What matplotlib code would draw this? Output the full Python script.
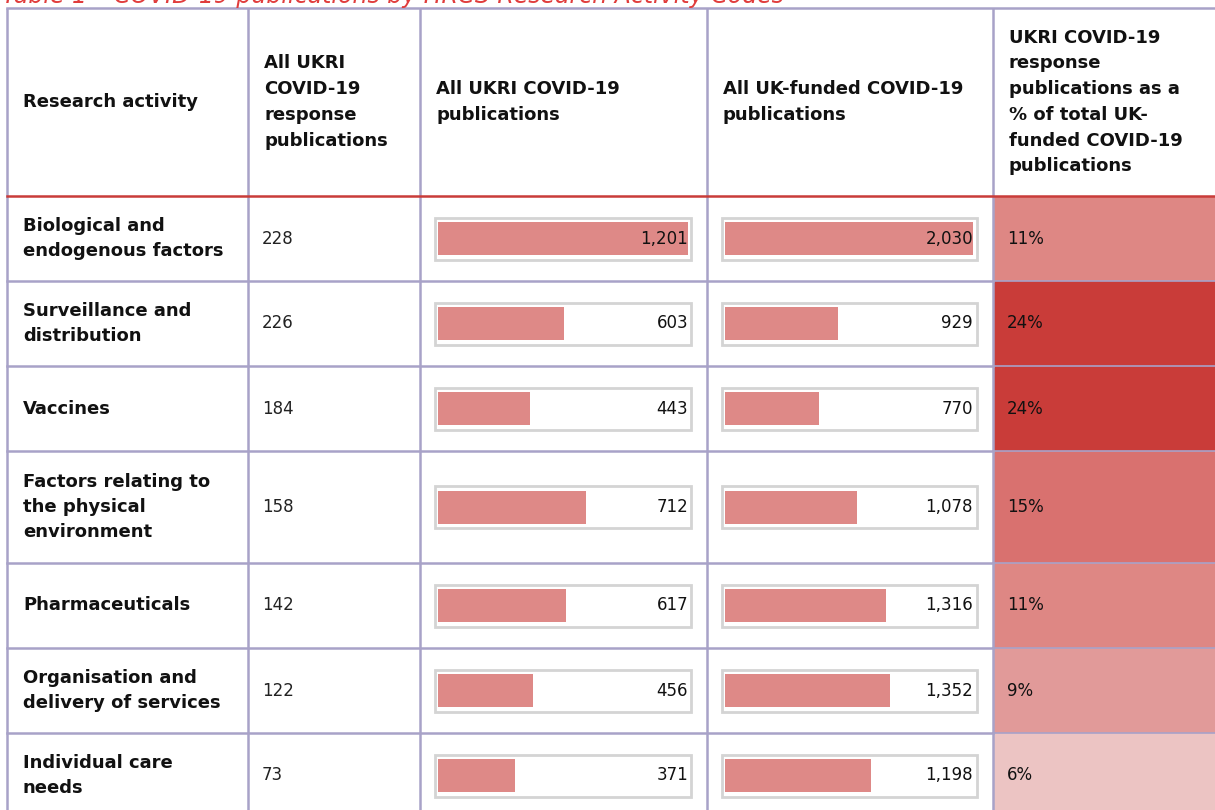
import matplotlib
matplotlib.use('Agg')
import matplotlib.pyplot as plt
from matplotlib.patches import Rectangle
from matplotlib.colors import LinearSegmentedColormap

# table data
activities = ['Biological and\nendogenous factors', 'Surveillance and\ndistribution',
              'Vaccines', 'Factors relating to\nthe physical\nenvironment',
              'Pharmaceuticals', 'Organisation and\ndelivery of services',
              'Individual care\nneeds']
ukri_response = [228, 226, 184, 158, 142, 122, 73]
ukri_all = [1201, 603, 443, 712, 617, 456, 371]
uk_funded = [2030, 929, 770, 1078, 1316, 1352, 1198]
pct_of_uk = [11, 24, 24, 15, 11, 9, 6]

headers = ['Research activity',
           'All UKRI\nCOVID-19\nresponse\npublications',
           'All UKRI COVID-19\npublications',
           'All UK-funded COVID-19\npublications',
           'UKRI COVID-19\nresponse\npublications as a\n% of total UK-\nfunded COVID-19\npublications']
title = 'Table 1 \u2013 COVID-19 publications by HRCS Research Activity Codes'

# layout in pixels
W, H = 1215, 810
col_x = [7, 248, 420, 707, 993, 1215]
row_y = [196, 281, 366, 451, 563, 648, 733, 818]
head_top = 8

grid_col = '#a8a2c8'
red = '#c93c39'
bar_col = '#de8987'
frame_col = '#d4d4d4'

fig = plt.figure(figsize=(W / 100, H / 100), dpi=100)
ax = fig.add_axes([0, 0, 1, 1])
ax.set_xlim(0, W)
ax.set_ylim(H, 0)
ax.axis('off')

plt.rcParams['font.family'] = ['DejaVu Sans']

# title, mostly cut off at the top (as in the source page)
ax.text(2, 3, title, color='#e03c3c', fontsize=17, style='italic',
        va='baseline', ha='left', clip_on=False)

# heat map cells for last column
cmap = LinearSegmentedColormap.from_list(
    'pct', [(0.0, '#ecc4c3'), (3 / 18, '#e19a98'), (5 / 18, '#de8784'),
            (9 / 18, '#d9716f'), (1.0, '#c93c39')])
lo, hi = min(pct_of_uk), max(pct_of_uk)
for i, p in enumerate(pct_of_uk):
    ax.add_patch(Rectangle((col_x[4], row_y[i]), col_x[5] - col_x[4],
                           row_y[i + 1] - row_y[i],
                           facecolor=cmap((p - lo) / (hi - lo)), edgecolor='none'))

# grid lines
for x in col_x[:5]:
    ax.plot([x, x], [head_top, H], color=grid_col, lw=1.8, solid_capstyle='butt')
ax.plot([col_x[0], W], [head_top, head_top], color=grid_col, lw=1.8)
for y in row_y[1:-1]:
    ax.plot([col_x[0], col_x[4]], [y, y], color=grid_col, lw=1.8)
    ax.plot([col_x[4], W], [y, y], color=grid_col, lw=1.2)
ax.plot([col_x[0], W], [row_y[0], row_y[0]], color=red, lw=1.8)

# headers
head_mid = (head_top + row_y[0]) / 2
for j, h in enumerate(headers):
    ax.text(col_x[j] + 16, head_mid, h, fontsize=13, fontweight='bold',
            va='center', ha='left', linespacing=1.55, color='#111111')

centers = [(row_y[i] + row_y[i + 1]) / 2 for i in range(len(activities))]

# row labels, first number column and percentages
for i, name in enumerate(activities):
    ax.text(col_x[0] + 16, centers[i], name, fontsize=13, fontweight='bold',
            va='center', ha='left', linespacing=1.5, color='#111111')
    ax.text(col_x[1] + 14, centers[i], str(ukri_response[i]), fontsize=12,
            va='center', ha='left', color='#222222')
    ax.text(col_x[4] + 14, centers[i], f'{pct_of_uk[i]}%', fontsize=12,
            va='center', ha='left', color='#111111')

# data bars, one axes per bar column
bar_cols = [(ukri_all, 438, 688, 434.5, 690.5), (uk_funded, 725, 973, 722, 977)]
for values, x0, x1, f0, f1 in bar_cols:
    for c in centers:
        ax.add_patch(Rectangle((f0, c - 21), f1 - f0, 42, facecolor='white',
                               edgecolor=frame_col, lw=2))
    bax = fig.add_axes([x0 / W, 0, (x1 - x0) / W, 1])
    bax.set_xlim(0, max(values))
    bax.set_ylim(H, 0)
    bax.axis('off')
    bax.patch.set_alpha(0)
    bax.barh(centers, values, height=33, left=0, color=bar_col)
    for c, v in zip(centers, values):
        bax.text(max(values), c, f'{v:,}', fontsize=12, va='center', ha='right',
                 color='#111111')

fig.savefig('out.png', dpi=100)
